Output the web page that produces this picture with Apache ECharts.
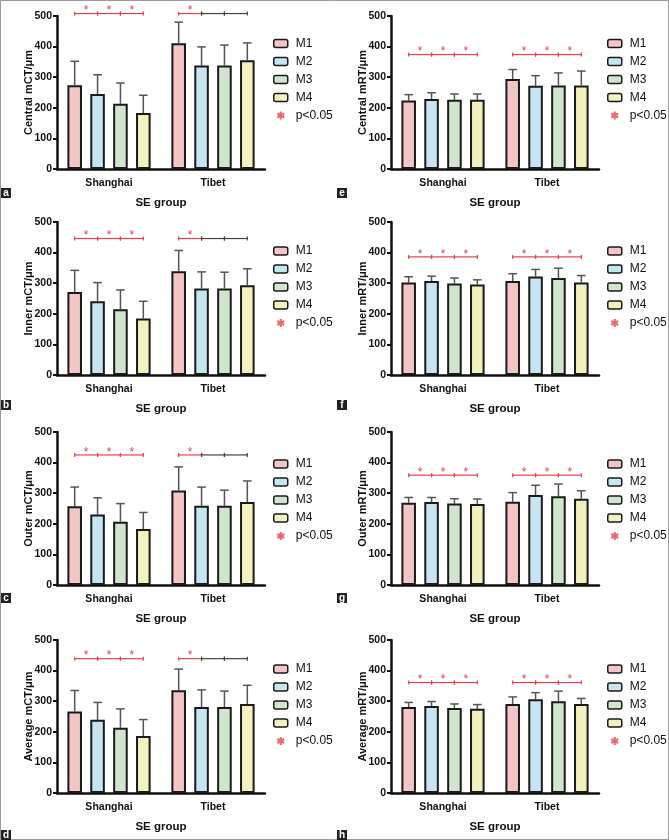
<!DOCTYPE html>
<html>
<head>
<meta charset="utf-8">
<title>mCT / mRT by SE group</title>
<script src="https://cdn.jsdelivr.net/npm/echarts@6/dist/echarts.min.js"></script>
<style>
  html, body { margin: 0; padding: 0; background: #fff; }
  #chart { width: 669px; height: 840px; }
</style>
</head>
<body>
<div id="chart"></div>
<script>
const categories = ["Shanghai", "Tibet"];
const groups = ["M1", "M2", "M3", "M4"];
const panelLetters = ["a", "b", "c", "d", "e", "f", "g", "h"];
const yTitles = [
  "Central mCT/μm", "Inner mCT/μm", "Outer mCT/μm", "Average mCT/μm",
  "Central mRT/μm", "Inner mRT/μm", "Outer mRT/μm", "Average mRT/μm"
];

// mean values, one row per group (M1..M4): [Shanghai, Tibet]
const centralMct = [[274, 411], [245, 338], [213, 338], [183, 355]];
const innerMct   = [[271, 339], [241, 283], [215, 283], [185, 293]];
const outerMct   = [[257, 309], [230, 259], [207, 259], [183, 271]];
const averageMct = [[266, 336], [239, 281], [213, 281], [186, 291]];
const centralMrt = [[224, 294], [229, 272], [226, 273], [226, 273]];
const innerMrt   = [[302, 307], [307, 322], [299, 317], [296, 302]];
const outerMrt   = [[269, 272], [271, 294], [266, 290], [265, 282]];
const averageMrt = [[281, 291], [284, 306], [278, 300], [275, 291]];

// standard deviations (upper error bar), same layout
const centralMctSd = [[78, 69], [63, 61], [68, 67], [58, 57]];
const innerMctSd   = [[71, 68], [61, 54], [63, 53], [56, 54]];
const outerMctSd   = [[63, 77], [55, 61], [59, 51], [54, 69]];
const averageMctSd = [[69, 69], [57, 56], [62, 52], [54, 61]];
const centralMrtSd = [[19, 31], [20, 33], [19, 41], [19, 47]];
const innerMrtSd   = [[19, 24], [16, 23], [18, 32], [15, 23]];
const outerMrtSd   = [[17, 30], [15, 32], [16, 40], [16, 26]];
const averageMrtSd = [[15, 23], [15, 22], [13, 33], [14, 18]];

// height of the comparison bracket in each panel (a..h)
const sigLevel = [508, 446, 425, 439, 374, 386, 359, 361];
// p<0.05 for M1-M2, M2-M3, M3-M4, per category
const sigMct = [[1, 1, 1], [1, 0, 0]];
const sigMrt = [[1, 1, 1], [1, 1, 1]];

const panels = [
  { means: centralMct, sd: centralMctSd, sig: sigMct },
  { means: innerMct,   sd: innerMctSd,   sig: sigMct },
  { means: outerMct,   sd: outerMctSd,   sig: sigMct },
  { means: averageMct, sd: averageMctSd, sig: sigMct },
  { means: centralMrt, sd: centralMrtSd, sig: sigMrt },
  { means: innerMrt,   sd: innerMrtSd,   sig: sigMrt },
  { means: outerMrt,   sd: outerMrtSd,   sig: sigMrt },
  { means: averageMrt, sd: averageMrtSd, sig: sigMrt }
];

const FONT = "'Liberation Sans', Arial, sans-serif";
const COLORS = ["#f3c5c5", "#c6e5f0", "#cfe6cd", "#f3f1c0"];
const RED = "#e3434b";
const CAT_GAP = 0.2;
const BAR_GAP = 0.57;

const colX = [0, 334];
const rowTop = [16, 222, 432, 640];
const legendTop = [37.5, 245, 458, 663];
const letterTop = [188, 400, 593, 830];

function asteriskIcon() {
  const r = 10, t = 2.6;
  let d = "";
  [90, 30, -30].forEach(function (a) {
    const c = Math.cos(a * Math.PI / 180), s = Math.sin(a * Math.PI / 180);
    const pts = [[-r, -t], [r, -t], [r, t], [-r, t]].map(function (p) {
      return [10 + p[0] * c - p[1] * s, 10 + p[0] * s + p[1] * c];
    });
    d += "M" + pts.map(function (p) { return p[0].toFixed(2) + " " + p[1].toFixed(2); }).join("L") + "Z";
  });
  return "path://" + d;
}

// centre offset of bar k inside a category band (same rule ECharts uses)
function barOffset(bandW, k) {
  const bw = bandW * (1 - CAT_GAP) / (4 + 3 * BAR_GAP);
  const total = 4 * bw + 3 * bw * BAR_GAP;
  return -total / 2 + k * bw * (1 + BAR_GAP) + bw / 2;
}

function renderError(params, api) {
  const cat = api.value(0), k = api.value(1);
  const p0 = api.coord([cat, api.value(2)]);
  const p1 = api.coord([cat, api.value(3)]);
  const x = p0[0] + barOffset(api.size([1, 0])[0], k);
  const st = { stroke: "#555", lineWidth: 1.5 };
  return {
    type: "group",
    children: [
      { type: "line", shape: { x1: x, y1: p0[1], x2: x, y2: p1[1] }, style: st },
      { type: "line", shape: { x1: x - 4.3, y1: p1[1], x2: x + 4.3, y2: p1[1] }, style: st }
    ]
  };
}

function renderSig(params, api) {
  const cat = api.value(0), k = api.value(1);
  const p = api.coord([cat, api.value(2)]);
  const band = api.size([1, 0])[0];
  const xa = p[0] + barOffset(band, k);
  const xb = p[0] + barOffset(band, k + 1);
  const sig = api.value(3) === 1;
  const col = sig ? RED : "#444";
  const st = { stroke: col, lineWidth: 1.2 };
  const kids = [
    { type: "line", shape: { x1: xa, y1: p[1], x2: xb, y2: p[1] }, style: st },
    { type: "line", shape: { x1: xa, y1: p[1] - 2, x2: xa, y2: p[1] + 2 }, style: st },
    { type: "line", shape: { x1: xb, y1: p[1] - 2, x2: xb, y2: p[1] + 2 }, style: st }
  ];
  if (sig) {
    kids.push({
      type: "text",
      style: {
        text: "*", x: (xa + xb) / 2, y: p[1] - 2.5, fill: RED,
        font: "12px " + FONT, align: "center", verticalAlign: "middle"
      }
    });
  }
  return { type: "group", children: kids };
}

const grid = [], xAxis = [], yAxis = [], legend = [], series = [];
const graphic = [{
  type: "rect", shape: { x: 0.5, y: 0.5, width: 668, height: 839 },
  style: { fill: "none", stroke: "#9a9a9a", lineWidth: 1 }, silent: true
}];

panels.forEach(function (pn, i) {
  const col = Math.floor(i / 4), row = i % 4;
  const x0 = colX[col];
  grid.push({ left: x0 + 57, top: rowTop[row], width: 208, height: 153 });
  xAxis.push({
    type: "category", gridIndex: i, data: categories,
    name: "SE group", nameLocation: "middle", nameGap: 28,
    nameTextStyle: { fontFamily: FONT, fontWeight: "bold", fontSize: 11.5, color: "#111" },
    axisLine: { lineStyle: { color: "#111", width: 2.5 } },
    axisTick: { alignWithLabel: true, length: 4, lineStyle: { color: "#111", width: 2 } },
    axisLabel: { fontFamily: FONT, fontWeight: "bold", fontSize: 10.5, color: "#111", margin: 9 }
  });
  yAxis.push({
    type: "value", gridIndex: i, min: 0, max: 500, interval: 100,
    name: yTitles[i], nameLocation: "middle", nameGap: 23, nameMoveOverlap: false,
    nameTextStyle: { fontFamily: FONT, fontWeight: "bold", fontSize: 11, color: "#111" },
    axisLine: { show: true, lineStyle: { color: "#111", width: 2.5 } },
    axisTick: { show: true, length: 4, lineStyle: { color: "#111", width: 2 } },
    axisLabel: { fontFamily: FONT, fontWeight: "bold", fontSize: 10.5, color: "#111", margin: 5 },
    splitLine: { show: false }
  });
  legend.push({
    orient: "vertical", left: x0 + 273, top: legendTop[row], padding: 0,
    itemWidth: 14, itemHeight: 8, itemGap: 6, selectedMode: false,
    itemStyle: { borderColor: "#1a1a1a", borderWidth: 1.5 },
    textStyle: { fontFamily: FONT, fontSize: 12, color: "#111", lineHeight: 12, padding: [0, 0, 0, 3] },
    data: groups.concat([{ name: "p<0.05", icon: asteriskIcon(), itemStyle: { color: RED, borderWidth: 0 } }])
  });

  const errData = [], sigData = [];
  groups.forEach(function (g, k) {
    series.push({
      type: "bar", name: g, xAxisIndex: i, yAxisIndex: i,
      data: pn.means[k], barGap: "57%", barCategoryGap: "20%",
      itemStyle: { color: COLORS[k], borderColor: "#1a1a1a", borderWidth: 2 },
      emphasis: { disabled: true }
    });
    categories.forEach(function (c, ci) {
      errData.push([ci, k, pn.means[k][ci], pn.means[k][ci] + pn.sd[k][ci]]);
    });
  });
  categories.forEach(function (c, ci) {
    pn.sig[ci].forEach(function (s, j) {
      sigData.push([ci, j, sigLevel[i], s]);
    });
  });
  series.push({
    type: "custom", name: "error", xAxisIndex: i, yAxisIndex: i,
    renderItem: renderError, data: errData, encode: { x: 0, y: 3 }, z: 1, silent: true
  });
  series.push({
    type: "custom", name: "bracket", xAxisIndex: i, yAxisIndex: i, clip: false,
    renderItem: renderSig, data: sigData, encode: { x: 0, y: 2 }, silent: true
  });
  series.push({
    type: "scatter", name: "p<0.05", xAxisIndex: i, yAxisIndex: i,
    data: [], itemStyle: { color: RED }
  });

  graphic.push({
    type: "group", left: (col ? 337 : 1), top: letterTop[row],
    children: [
      { type: "rect", shape: { x: 0, y: 0, width: 10, height: 10 }, style: { fill: "#222" } },
      { type: "text", x: 5, y: 5.5, style: { text: panelLetters[i], fill: "#fff", font: "bold 10px " + FONT, align: "center", verticalAlign: "middle" } }
    ]
  });
});

const chart = echarts.init(document.getElementById("chart"));
chart.setOption({
  animation: false,
  backgroundColor: "#fff",
  grid: grid,
  xAxis: xAxis,
  yAxis: yAxis,
  legend: legend,
  graphic: graphic,
  series: series
});
</script>
</body>
</html>
